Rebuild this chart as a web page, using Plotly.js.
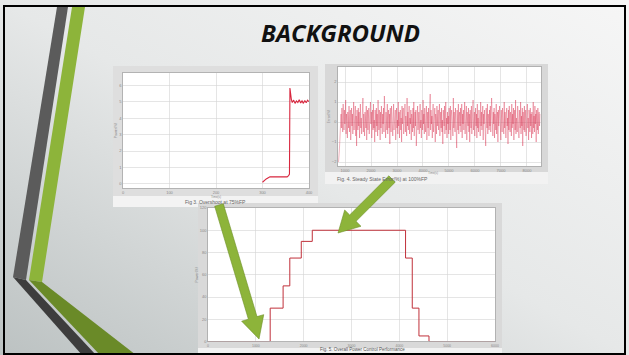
<!DOCTYPE html>
<html><head><meta charset="utf-8">
<script src="https://cdn.plot.ly/plotly-3.0.1.min.js"></script>
<style>html,body{margin:0;padding:0;background:#fff}#chart{width:629px;height:355px}</style>
</head><body><div id="chart"></div>
<script>
// ---- Fig 3: Overshoot at 75%FP ----
const overshootTime  = [300, 308, 316, 330, 345, 353, 356, 358, 359, 360, 362, 364, 367, 370, 373, 376, 379, 382, 385, 388, 391, 394, 397, 400];
const overshootPower = [0.10, 0.30, 0.43, 0.43, 0.43, 0.43, 0.50, 0.60, 5.84, 5.40, 5.15, 4.95, 5.10, 4.90, 5.05, 4.95, 5.12, 4.92, 5.05, 4.90, 5.08, 4.94, 5.10, 5.00];

// ---- Fig 4: Steady state error at 100%FP ----
const errorValues = [
 -2.0,-1.8,-1.4,-1.0,-0.6,-0.2,0.4,-0.3,0.7,0.1,-0.5,0.9,0.2,-0.4,0.6,-0.1,0.3,1.1,-0.6,0.4,0.0,-0.8,0.5,0.2,
 -0.3,0.8,-0.5,0.1,0.6,-0.9,0.3,0.7,-0.2,0.4,-0.6,0.2,1.0,-0.4,0.5,-0.1,0.8,-0.7,0.3,-1.2,0.6,0.1,-0.4,0.7,
 -0.2,0.5,-0.8,0.3,0.9,-0.3,0.2,-0.6,0.6,-0.1,1.2,-0.5,0.4,0.0,-0.7,0.5,0.2,-0.3,0.8,-0.9,0.3,0.6,-0.4,0.1,
 0.7,-0.6,0.4,-0.2,1.0,-0.1,0.5,-0.8,0.2,0.6,-0.4,0.9,-0.3,0.1,-1.0,0.6,0.3,-0.5,0.7,-0.2,0.4,-0.7,1.1,0.0,
 -0.4,0.6,0.2,-0.9,0.5,-0.3,0.8,0.1,-0.6,0.4,-0.1,0.7,-0.5,1.3,-0.2,0.3,-0.8,0.5,0.1,-0.4,0.9,-0.6,0.2,0.6,
 -0.3,0.4,-1.1,0.7,0.0,-0.5,0.8,-0.2,0.5,-0.7,0.3,0.9,-0.4,0.2,-0.1,0.6,-0.9,0.4,0.7,-0.3,0.1,-0.6,1.0,-0.2,
 0.5,-0.8,0.3,0.6,-0.4,0.2,-1.0,0.8,-0.1,0.4,0.7,-0.6,0.1,-0.3,0.9,-0.5,0.3,0.0,-0.7,1.2,-0.2,0.5,-0.4,0.3,
 0.8,-0.6,0.2,-0.1,0.6,-0.9,0.4,0.1,-0.5,0.7,-0.3,1.0,-0.7,0.3,0.5,-0.2,0.6,-1.2,0.4,-0.1,0.8,-0.4,0.2,0.5,
 -0.6,0.3,0.9,-0.3,0.1,-0.8,0.6,0.2,-0.4,1.1,-0.1,0.4,-0.6,0.7,0.0,-0.5,0.3,0.8,-0.9,0.2,0.5,-0.3,0.7,-0.7,
 0.4,-0.2,1.4,-0.4,0.6,-0.1,0.3,-0.8,0.5,0.9,-0.5,0.2,-0.3,0.7,-1.0,0.4,0.1,-0.6,0.8,-0.2,0.3,0.6,-0.4,0.0,
 0.9,-0.7,0.2,0.5,-0.3,0.7,-0.5,0.1,-1.1,0.6,0.3,-0.2,0.8,-0.6,0.4,1.0,-0.4,0.2,-0.8,0.5,-0.1,0.3,-0.6,0.7,
 0.1,-0.4,0.8,-0.9,0.3,0.6,-0.2,0.4,-0.7,1.2,-0.3,0.5,0.0,-0.5,0.7,-0.1,0.3,-1.3,0.6,0.2,-0.4,0.9,-0.6,0.3,
 0.5,-0.2,0.7,-0.5,0.1,0.9,-0.8,0.4,-0.1,0.6,-0.4,0.2,1.0,-0.6,0.3,-0.3,0.8,-0.9,0.5,0.0,-0.2,0.7,-0.5,0.4,
 -1.0,0.6,0.2,-0.3,0.8,-0.6,0.4,-0.1,1.1,-0.4,0.3,0.5,-0.7,0.1,0.7,-0.2,0.4,-0.8,0.9,-0.3,0.2,-0.5,0.6,0.0,
 0.3,-0.7,1.0,-0.2,0.5,-0.4,0.2,0.8,-0.9,0.4,-0.1,0.6,-0.5,0.3,-1.2,0.7,0.1,-0.3,0.9,-0.6,0.4,0.2,-0.4,0.6,
 -0.2,0.8,-0.5,0.3,1.2,-0.3,0.1,-0.7,0.5,-0.1,0.7,-0.8,0.4,0.0,-0.4,0.9,-0.6,0.2,0.5,-1.0,0.6,-0.2,0.3,0.8,
 -0.4,0.2,-0.9,0.6,0.3,-0.5,0.7,-0.1,0.4,-0.6,1.0,-0.3,0.5,0.1,-0.8,0.4,0.7,-0.2,0.2,-1.1,0.6,-0.4,0.8,0.0,
 -0.5,0.5,0.2,-0.7,0.9,-0.3,0.4,-0.1,0.7,-0.9,0.3,0.6,-0.4,1.1,-0.6,0.2,0.0,-0.5,0.8,-0.2,0.4,-0.8,0.6,0.1,
 -0.3,1.0,-0.6,0.3,-0.2,0.7,-1.2,0.5,0.1,-0.4,0.8,-0.5,0.2,0.6,-0.7,0.4,-0.1,0.9,-0.3,0.2,-0.9,0.6,0.3,-0.5,
 0.7,-0.2,0.4,-0.8,0.5,0.1,-0.6,1.0,-0.3,0.3,-0.5,0.8,-0.1,0.4,-1.0,0.6,0.2,-0.4,0.7,-0.6,0.3,0.5,-0.2,0.4
];
const errorStart = 750, errorEnd = 8500;

// ---- Fig 5: Overall power control performance ----
const powerTime  = [0, 1300, 1300, 1570, 1570, 1710, 1710, 1950, 1950, 2180, 2180, 4130, 4130, 4270, 4270, 4410, 4410, 4620, 4620, 6000];
const powerLevel = [0, 0, 30, 30, 50, 50, 75, 75, 90, 90, 100, 100, 75, 75, 30, 30, 5, 5, 0, 0];

// ---- layout helpers (pixel -> paper) ----
const W = 629, H = 355;
const fx = x => x / W, fy = y => 1 - y / H;
function path(pts){ return 'M' + pts.map(p => fx(p[0]).toFixed(4) + ',' + fy(p[1]).toFixed(4)).join('L') + 'Z'; }
function arrowPts(x0,y0,x1,y1,sw,hw,hl){
  const dx=x1-x0, dy=y1-y0, L=Math.hypot(dx,dy), ux=dx/L, uy=dy/L, nx=-uy, ny=ux;
  const bx=x1-ux*hl, by=y1-uy*hl;
  return [[x0+nx*sw/2,y0+ny*sw/2],[bx+nx*sw/2,by+ny*sw/2],[bx+nx*hw/2,by+ny*hw/2],[x1,y1],
          [bx-nx*hw/2,by-ny*hw/2],[bx-nx*sw/2,by-ny*sw/2],[x0-nx*sw/2,y0-ny*sw/2]];
}
function rect(x0,y0,x1,y1,fill,layer){
  return {type:'rect',xref:'paper',yref:'paper',x0:fx(x0),x1:fx(x1),y0:fy(y1),y1:fy(y0),
          fillcolor:fill,line:{width:0},layer:layer||'below'};
}
function poly(pts,fill,layer,lc){
  return {type:'path',xref:'paper',yref:'paper',path:path(pts),fillcolor:fill,
          line:{width:lc?0.6:0,color:lc||fill},layer:layer||'below'};
}

const errorStep = (errorEnd - errorStart) / (errorValues.length - 1);
const errorTime = errorValues.map((v,i)=> errorStart + i*errorStep);

const traces = [
  {x:overshootTime, y:overshootPower, xaxis:'x', yaxis:'y', mode:'lines', line:{color:'#d8263e', width:1.1}, hoverinfo:'skip'},
  {x:errorTime, y:errorValues, xaxis:'x2', yaxis:'y2', mode:'lines', line:{color:'rgba(214,40,72,0.7)', width:0.5}, hoverinfo:'skip'},
  {x:powerTime, y:powerLevel, xaxis:'x3', yaxis:'y3', mode:'lines', line:{color:'#c0303a', width:1}, hoverinfo:'skip'}
];

const tickFont = {family:'Arial', size:4, color:'#8a8a8a'};
function ax(xPx, yPx, vertical, extra){
  const d = vertical ? [fy(yPx[1]), fy(yPx[0])] : [fx(xPx[0]), fx(xPx[1])];
  return Object.assign({domain:d, showgrid:true, gridcolor:'#d4d4d4', gridwidth:0.6, zeroline:false,
    showline:true, linecolor:'#a8a8a8', linewidth:0.8, mirror:true, tickfont:tickFont,
    ticks:'', ticklen:0, fixedrange:true}, extra);
}
const box1 = [[123,309],[73,188]], box2 = [[338,541],[67,166]], box3 = [[208,495],[208,341.5]];

const layout = {
  width:W, height:H, margin:{l:0,r:0,t:0,b:0}, showlegend:false,
  paper_bgcolor:'#e6e8e8', plot_bgcolor:'rgba(0,0,0,0)',
  images:[{source:'data:image/svg+xml;utf8,' + encodeURIComponent(
    '<svg xmlns="http://www.w3.org/2000/svg" width="629" height="355"><defs><linearGradient id="g" x1="1" y1="0" x2="0" y2="1">'+
    '<stop offset="0" stop-color="#f6f6f6"/><stop offset="0.5" stop-color="#e6e8e8"/><stop offset="1" stop-color="#bcc2c2"/></linearGradient></defs>'+
    '<rect width="629" height="355" fill="url(#g)"/></svg>'),
    xref:'paper', yref:'paper', x:0, y:1, sizex:1, sizey:1, sizing:'stretch', layer:'below', xanchor:'left', yanchor:'top'}],
  xaxis: ax(box1[0], box1[1], false, {anchor:'y', range:[0,400], dtick:100, tickangle:0}),
  yaxis: ax(box1[0], box1[1], true, {anchor:'x', range:[-0.25,6.75], dtick:1, title:{text:'Power(%)', font:{size:3.5,color:'#888'}, standoff:1}}),
  xaxis2: ax(box2[0], box2[1], false, {anchor:'y2', range:[730,8540], dtick:1000}),
  yaxis2: ax(box2[0], box2[1], true, {anchor:'x2', range:[-2.2,2.75], dtick:1, title:{text:'Error(%)', font:{size:3.5,color:'#888'}, standoff:1}}),
  xaxis3: ax(box3[0], box3[1], false, {anchor:'y3', range:[0,6000], dtick:1000, tickfont:{family:'Arial', size:3.5, color:'#8a8a8a'}}),
  yaxis3: ax(box3[0], box3[1], true, {anchor:'x3', range:[0,120], dtick:20, title:{text:'Power(%)', font:{size:3.5,color:'#888'}, standoff:1}}),
  shapes:[
    // decorative bands
    poly([[57,7],[68,7],[26,280],[13,277]], '#5b5b5b'),
    poly([[13,277],[26,280],[96,355],[82,355]], '#3d3d3d'),
    poly([[72,7],[85,7],[42,282],[29,280]], '#8db43a'),
    poly([[29,280],[42,282],[136,355],[100,355]], '#6a8a28'),
    // figure frames
    rect(113,66,318,196,'#dedede'), rect(113,196,318,207,'#f3f3f3'), rect(123,73,309,188,'#ffffff'),
    rect(325,64,548,172,'#d8d8d8'), rect(325,172,548,184,'#f2f2f2'), rect(338,67,541,166,'#ffffff'),
    rect(198,203,502,348,'#d9d9d9'), rect(198,348,502,355,'#f2f2f2'), rect(208,208,495,341.5,'#ffffff'),
    // arrows
    poly(arrowPts(219,205,259,339,9,23,22), '#8db43a', 'above', '#6f9128'),
    poly(arrowPts(392,179,338,233,9,23,21), '#8db43a', 'above', '#6f9128'),
    // slide border
    {type:'rect',xref:'paper',yref:'paper',x0:fx(4),x1:fx(625),y0:fy(354),y1:fy(6),line:{color:'#000',width:2},fillcolor:'rgba(0,0,0,0)',layer:'above'}
  ],
  annotations:[
    {text:'<b><i>BACKGROUND</i></b>', xref:'paper', yref:'paper', x:fx(340), y:fy(33), showarrow:false,
     font:{family:'Open Sans', size:24, color:'#111'}, xanchor:'center', yanchor:'middle'},
    {text:'Time(s)', xref:'paper', yref:'paper', x:fx(216), y:fy(196.5), showarrow:false, font:{family:'Arial', size:3, color:'#888'}},
    {text:'Fig 3. Overshoot at 75%FP', xref:'paper', yref:'paper', x:fx(183), y:fy(202), showarrow:false, font:{family:'Arial', size:5, color:'#666'}},
    {text:'Time(s)', xref:'paper', yref:'paper', x:fx(440), y:fy(172.5), showarrow:false, font:{family:'Arial', size:3, color:'#888'}},
    {text:'Fig. 4. Steady State Error(%) at 100%FP', xref:'paper', yref:'paper', x:fx(430), y:fy(179), showarrow:false, font:{family:'Arial', size:5, color:'#666'}},
    {text:'Fig. 5. Overall Power Control Performance', xref:'paper', yref:'paper', x:fx(362), y:fy(353.6), showarrow:false, font:{family:'Arial', size:4.5, color:'#555'}}
  ]
};

Plotly.newPlot('chart', traces, layout, {staticPlot:true, displayModeBar:false});
</script></body></html>
